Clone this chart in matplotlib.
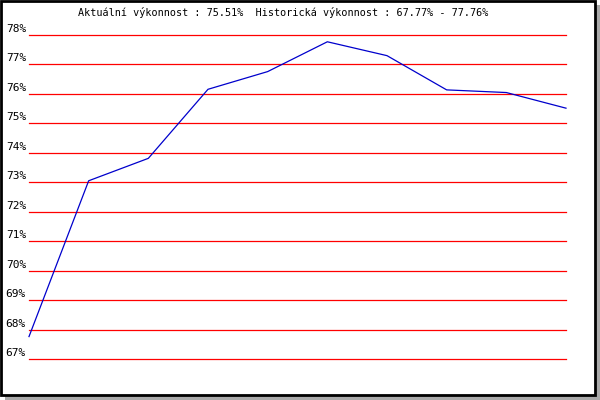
import matplotlib
matplotlib.use("Agg")
import matplotlib.pyplot as plt
from matplotlib.patches import Rectangle

# DATA
values = [67.77, 73.05, 73.81, 76.15, 76.75, 77.76, 77.29, 76.13, 76.04, 75.51]
levels = list(range(67, 79))
level_labels = [f"{v}%" for v in levels]
title = "Aktuální výkonnost : 75.51%  Historická výkonnost : 67.77% - 77.76%"

W, H = 600, 400
fig = plt.figure(figsize=(W / 100, H / 100), dpi=100)
fig.patch.set_facecolor("white")

# frame with shadow
fig.patches.append(Rectangle((5 / W, 0), 595 / W, 5 / H, transform=fig.transFigure,
                             facecolor="#aaaaaa", edgecolor="none"))
fig.patches.append(Rectangle((595 / W, 0), 5 / W, 395 / H, transform=fig.transFigure,
                             facecolor="#aaaaaa", edgecolor="none"))
fig.patches.append(Rectangle((1 / W, 5 / H), 594 / W, 394 / H, transform=fig.transFigure,
                             facecolor="none", edgecolor="black", linewidth=2))

# plot area
x0, x1 = 29, 566
y_low, y_high = 359.3, 34.7
ax = fig.add_axes([x0 / W, (H - y_low) / H, (x1 - x0) / W, (y_low - y_high) / H])
ax.set_xlim(0, len(values) - 1)
ax.set_ylim(levels[0], levels[-1])
ax.axis("off")

for lv, lab in zip(levels, level_labels):
    ax.axhline(lv, color="#ff0000", linewidth=0.9, clip_on=False)
    ax.annotate(lab, xy=(0, lv), xycoords=("axes fraction", "data"),
                xytext=(-3, 6), textcoords="offset pixels",
                ha="right", va="center", fontsize=8, family="DejaVu Sans Mono")

ax.plot(range(len(values)), values, color="#0000cc", linewidth=0.9, clip_on=False)

fig.text(283 / W, 1 - 13 / H, title, ha="center", va="center",
         fontsize=7.3, family="DejaVu Sans Mono")

fig.savefig("out.png", dpi=100)
